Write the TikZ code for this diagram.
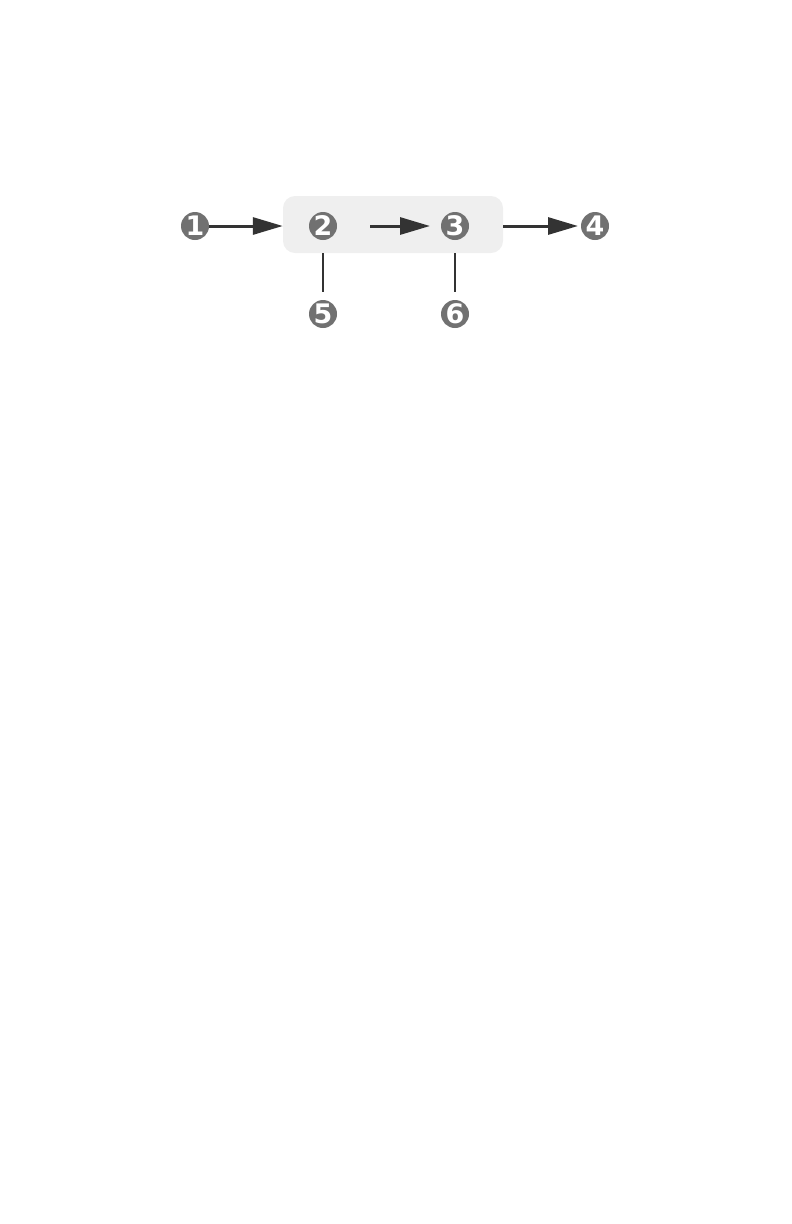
\documentclass[tikz,border=0pt]{standalone}
\usepackage{fontspec}
\setsansfont{DejaVu Sans}
\usepackage{tikz}
\usetikzlibrary{arrows.meta}
\definecolor{numgray}{HTML}{717171}
\definecolor{boxgray}{HTML}{EFEFEF}
\definecolor{linegray}{HTML}{333333}
\tikzset{
every picture/.style={x=1bp, y=-1bp},
%%%%%%%%%%  Node styles
numnode/.style={fill=numgray,circle,minimum size=28bp, inner sep=0pt, outer
sep=0, text=white, font=\fontsize{27}{27}\selectfont\sffamily\bfseries},
groupbox/.style={fill=boxgray,rounded corners=12bp,minimum width=220bp,
                 minimum height=57bp, inner sep=0pt},
%%%% line styles
flow/.style={line width=3bp, draw=linegray,
             -{Triangle[length=30bp,width=17bp]}},
stem/.style={line width=1.5bp, draw=linegray}
}
\begin{document}
\begin{tikzpicture}
\useasboundingbox (0,0) rectangle (792,1224);
%%shaded group
\node[groupbox] (box) at (393,224.5) {};
%%numbered circles
\node[numnode] (n1) at (195,226) {1};
\node[numnode] (n2) at (323,226) {2};
\node[numnode] (n3) at (455,226) {3};
\node[numnode] (n4) at (595,226) {4};
\node[numnode] (n5) at (323,314) {5};
\node[numnode] (n6) at (455,314) {6};
%%arrows
\draw[flow] (n1) -- (n1 -| box.west);
\draw[flow, shorten <=33bp, shorten >=11bp] (n2) -- (n3);
\draw[flow, shorten >=3bp] (n3 -| box.east) -- (n4);
%%stems
\draw[stem, shorten >=8bp] (n2 |- box.south) -- (n5);
\draw[stem, shorten >=8bp] (n3 |- box.south) -- (n6);
\end{tikzpicture}
\end{document}
